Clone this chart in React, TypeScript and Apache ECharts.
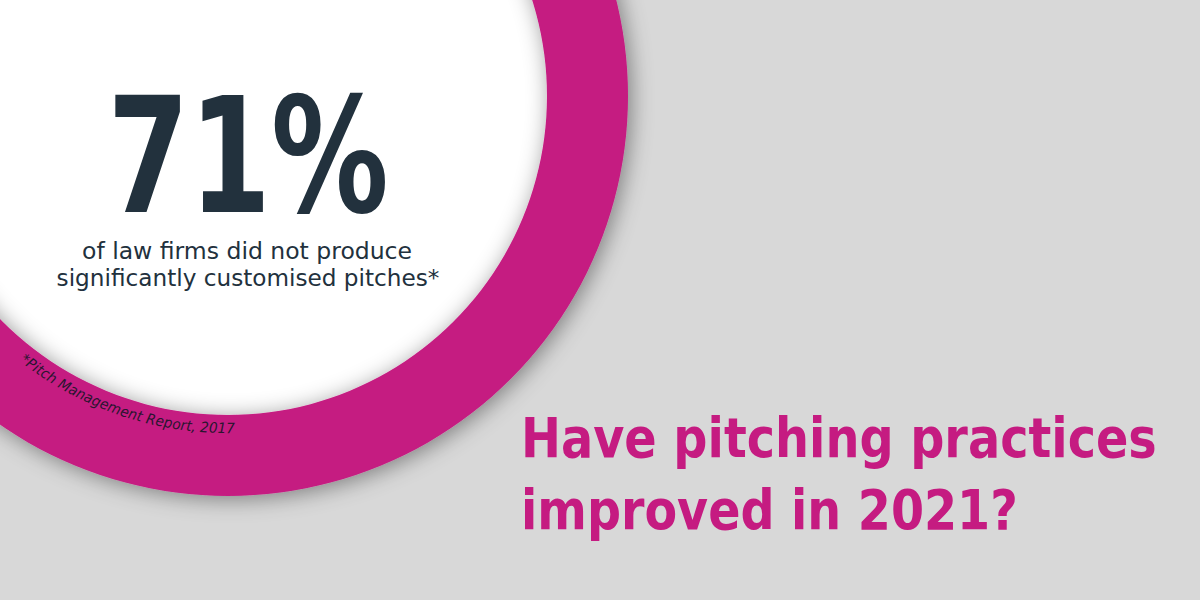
import React, { useEffect, useRef } from "react";
import * as echarts from "echarts";

// ---- content ----
const headlineValue = [71];
const headlineSuffix = ["%"];
const statLines = ["of law firms did not produce", "significantly customised pitches*"];
const footnoteText = ["*Pitch Management Report, 2017"];
const questionLines = ["Have pitching practices", "improved in 2021?"];

// ---- colours ----
const BG = "#D8D8D8";
const MAGENTA = "#C51B81";
const DARK = "#22313D";
const FOOT = "#2A1530";

const measureCtx = (() => {
  const c = document.createElement("canvas");
  return c.getContext("2d") as CanvasRenderingContext2D;
})();
function measure(text: string, font: string) {
  measureCtx.font = font;
  return measureCtx.measureText(text).width;
}

// DejaVu central-baseline offset (fraction of font size)
const CENTRAL = 0.346;

export default function App() {
  const ref = useRef<HTMLDivElement>(null);
  useEffect(() => {
    if (!ref.current) return;
    const chart = echarts.init(ref.current, null, { renderer: "svg" });

    const cx = 228;
    const cy = 96;
    const rInner = 319;
    const rOuter = 400;

    const elements: any[] = [];
    elements.push({
      type: "circle",
      z: 1,
      shape: { cx, cy, r: rInner + 2 },
      style: { fill: "#FFFFFF" },
    });
    elements.push({
      type: "ring",
      z: 2,
      shape: { cx, cy, r: rOuter, r0: rInner },
      style: {
        fill: MAGENTA,
        shadowBlur: 22,
        shadowColor: "rgba(0,0,0,0.42)",
        shadowOffsetX: 3,
        shadowOffsetY: 3,
      },
    });

    const fitText = (
      text: string,
      family: string,
      weight: string,
      size: number,
      x: number,
      baseline: number,
      targetWidth: number,
      align: "left" | "center",
      fill: string
    ) => {
      const font = `${weight} ${size}px ${family}`;
      const w = measure(text, font);
      const sx = targetWidth / w;
      elements.push({
        type: "text",
        z: 5,
        x,
        y: baseline - CENTRAL * size,
        scaleX: sx,
        style: { text, fill, font, align, verticalAlign: "middle" },
      });
    };

    const DV = '"DejaVu Sans"';
    fitText(`${headlineValue[0]}${headlineSuffix[0]}`, DV, "bold", 160, 248, 212, 281, "center", DARK);
    fitText(statLines[0], DV, "normal", 23.5, 247, 259, 330, "center", DARK);
    fitText(statLines[1], DV, "normal", 23.5, 248, 286, 383, "center", DARK);
    fitText(questionLines[0], DV, "bold", 56, 521, 457, 636, "left", MAGENTA);
    fitText(questionLines[1], DV, "bold", 56, 521, 529, 497, "left", MAGENTA);

    // footnote along the ring
    const fText = footnoteText[0];
    const fSize = 14.5;
    const rMid = 332;
    const th0 = (128.2 * Math.PI) / 180;
    const th1 = (88.8 * Math.PI) / 180;
    const arcLen = (th0 - th1) * rMid;
    const fFont = `italic ${fSize}px ${DV}`;
    const total = measure(fText, fFont);
    const k = arcLen / total;
    let acc = 0;
    for (const ch of fText) {
      const w = measure(ch, fFont) * k;
      const mid = acc + w / 2;
      acc += w;
      if (ch === " ") continue;
      const th = th0 - mid / rMid;
      elements.push({
        type: "text",
        z: 5,
        x: cx + rMid * Math.cos(th),
        y: cy + rMid * Math.sin(th),
        rotation: Math.PI / 2 - th,
        scaleX: k,
        style: {
          text: ch,
          fill: FOOT,
          font: fFont,
          align: "center",
          verticalAlign: "middle",
        },
      });
    }

    chart.setOption({
      animation: false,
      backgroundColor: BG,
      graphic: elements,
    });

    return () => chart.dispose();
  }, []);

  return (
    <div
      ref={ref}
      style={{ position: "fixed", left: 0, top: 0, width: 1200, height: 600 }}
    />
  );
}
